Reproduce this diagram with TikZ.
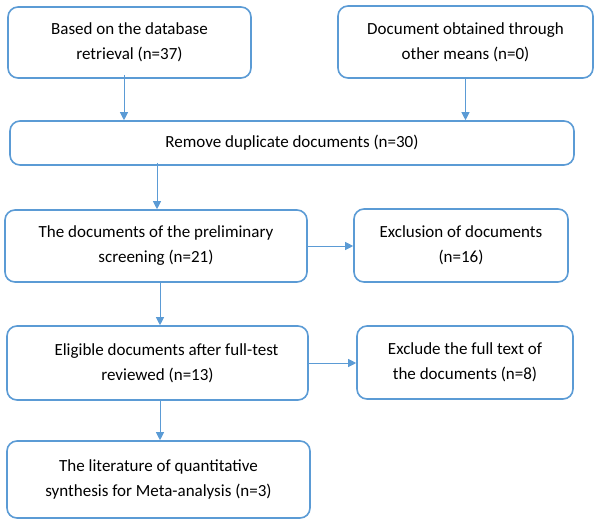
\documentclass[tikz,border=0pt]{standalone}
\usepackage{fontspec}
\setmainfont{Carlito}
\usetikzlibrary{arrows.meta}
\definecolor{bl}{RGB}{91,155,213}
\tikzset{
  box/.style={draw=bl, line width=1.6pt, rounded corners=10pt, align=center,
    inner sep=2pt, font=\fontsize{17}{25}\selectfont, text=black},
  arr/.style={draw=bl, line width=0.9pt, -{Triangle[width=8pt,length=8pt]}}
}
\begin{document}
\begin{tikzpicture}[x=1pt,y=-1pt]
\useasboundingbox (0,0) rectangle (600,523);
\node[box, minimum width=243pt, minimum height=71pt] (b1) at (129.5,42.5) {Based on the database\\retrieval (n=37)};
\node[box, minimum width=255pt, minimum height=72pt] (b2) at (465.5,42) {Document obtained through\\other means (n=0)};
\node[box, minimum width=564pt, minimum height=44pt] (b3) at (292,143) {Remove duplicate documents (n=30)};
\node[box, minimum width=302pt, minimum height=72pt] (b4) at (156,246) {The documents of the preliminary\\screening (n=21)};
\node[box, minimum width=214pt, minimum height=73pt] (b5) at (461,245.5) {Exclusion of documents\\(n=16)};
\node[box, minimum width=301pt, minimum height=74pt] (b6) at (157.5,363) {\hspace*{18pt}Eligible documents after full-test\\reviewed (n=13)};
\node[box, minimum width=216pt, minimum height=73pt] (b7) at (465,362.5) {Exclude the full text of\\the documents (n=8)};
\node[box, minimum width=303pt, minimum height=77pt] (b8) at (158.5,479.5) {The literature of quantitative\\synthesis for Meta-analysis (n=3)};
\coordinate (c1) at (124,0);
\coordinate (c3) at (157,0);
\coordinate (c5) at (160,0);
\draw[arr] ([yshift=4pt]b1.south -| c1) -- (b3.north -| c1);
\draw[arr] (b2.south) -- (b3.north -| b2.south);
\draw[arr] ([yshift=3pt]b3.south -| c3) -- (b4.north -| c3);
\draw[arr] (b4.east) -- (b4.east -| b5.west);
\draw[arr] (b4.south -| c5) -- (b6.north -| c5);
\draw[arr] (b6.east) -- (b6.east -| b7.west);
\draw[arr] (b6.south -| c5) -- (b8.north -| c5);
\end{tikzpicture}
\end{document}
